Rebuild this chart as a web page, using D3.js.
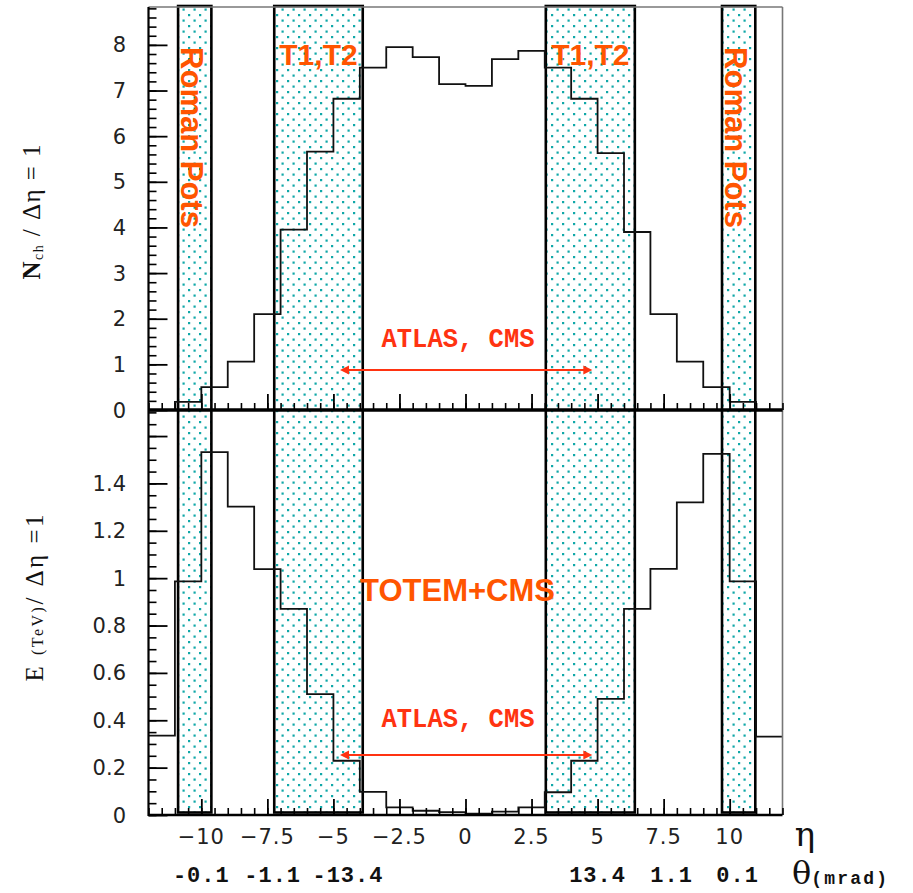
<!DOCTYPE html>
<html><head><meta charset="utf-8">
<script src="https://cdn.jsdelivr.net/npm/d3@7"></script>
<style>body{margin:0;background:#fff}svg{display:block}</style>
</head><body>
<script>
// ---- data ----
const binEdges = [-12,-11,-10,-9,-8,-7,-6,-5,-4,-3,-2,-1,0,1,2,3,4,5,6,7,8,9,10,11,12];
const nchValues = [0,0.18,0.50,1.06,2.10,3.95,5.66,6.82,7.50,7.95,7.73,7.14,7.10,7.69,7.87,7.50,6.82,5.63,3.90,2.10,1.06,0.50,0.18,0];
const energyValues = [0.335,0.986,1.532,1.302,1.038,0.870,0.510,0.229,0.098,0.032,0.018,0.012,0.006,0.014,0.032,0.096,0.229,0.490,0.870,1.039,1.32,1.525,0.986,0.331];
const bandNames = ["Roman Pots","T1,T2","T1,T2","Roman Pots"];
const bandRanges = [[-10.88,-9.62],[-7.24,-3.89],[3.04,6.41],[9.71,10.97]];
const etaTickLabels = [-10,-7.5,-5,-2.5,0,2.5,5,7.5,10];
const thetaLabels = ["-0.1","-1.1","-13.4","13.4","1.1","0.1"];
const thetaPositions = [-10,-7.3,-4.45,5,7.8,10.3];
const nchTickLabels = [0,1,2,3,4,5,6,7,8];
const energyTickLabels = [0,0.2,0.4,0.6,0.8,1,1.2,1.4];
const acceptanceRange = [-4.75,4.8];

// ---- layout ----
const W=913,H=893;
const x = d3.scaleLinear().domain([-12,12]).range([148.5,782.5]);
const yTop = d3.scaleLinear().domain([0,8.83]).range([410,7]);
const yBot = d3.scaleLinear().domain([0,1.71]).range([815,410]);

const svg = d3.select("body").append("svg").attr("width",W).attr("height",H);
const defs = svg.append("defs");
const pat = defs.append("pattern").attr("id","dots").attr("patternUnits","userSpaceOnUse")
  .attr("width",11).attr("height",11).attr("x",0).attr("y",2);
pat.append("rect").attr("width",11).attr("height",11).attr("fill","#fff");
pat.append("rect").attr("x",1).attr("y",1).attr("width",2.2).attr("height",2.2).attr("fill","#10a8a8");
pat.append("rect").attr("x",6.5).attr("y",6.5).attr("width",2.2).attr("height",2.2).attr("fill","#10a8a8");

// bands
svg.append("g").selectAll("rect").data(bandRanges).join("rect")
  .attr("x",d=>x(d[0])).attr("width",d=>x(d[1])-x(d[0]))
  .attr("y",6).attr("height",812.5-6)
  .attr("fill","url(#dots)").attr("stroke","#000").attr("stroke-width",2.6);

// histograms
function stepPts(vals){ const p = vals.map((v,i)=>[binEdges[i],v]); p.push([binEdges[binEdges.length-1], vals[vals.length-1]]); return p; }
const lineTop = d3.line().x(d=>x(d[0])).y(d=>yTop(d[1])).curve(d3.curveStepAfter);
const lineBot = d3.line().x(d=>x(d[0])).y(d=>yBot(d[1])).curve(d3.curveStepAfter);
svg.append("path").attr("d",lineTop(stepPts(nchValues))).attr("fill","none").attr("stroke","#111").attr("stroke-width",1.8);
svg.append("path").attr("d",lineBot(stepPts(energyValues))).attr("fill","none").attr("stroke","#111").attr("stroke-width",1.8);

// frame (top and right thin gray)
svg.append("line").attr("x1",x(-12)).attr("x2",x(12)).attr("y1",7).attr("y2",7).attr("stroke","#777").attr("stroke-width",1.6);
svg.append("line").attr("x1",x(12)).attr("x2",x(12)).attr("y1",7).attr("y2",815).attr("stroke","#777").attr("stroke-width",1.6);

// y axes ticks
function yTicks(scale, majors, minors, g){
  g.append("g").attr("transform","translate("+x(-12)+",0)")
   .call(d3.axisRight(scale).tickValues(minors).tickSize(8).tickFormat(""))
   .call(a=>a.select(".domain").remove()).selectAll("line").attr("stroke","#000").attr("stroke-width",1.6);
  g.append("g").attr("transform","translate("+x(-12)+",0)")
   .call(d3.axisRight(scale).tickValues(majors).tickSize(19).tickFormat(""))
   .call(a=>a.select(".domain").remove()).selectAll("line").attr("stroke","#000").attr("stroke-width",1.8);
}
const ag = svg.append("g");
yTicks(yTop, d3.range(0,8.5,1), d3.range(0,8.85,0.2), ag);
yTicks(yBot, d3.range(0,1.65,0.2), d3.range(0,1.71,0.05), ag);

// x axes ticks (pointing up) at both panels
function xTicks(yPos){
  ag.append("g").attr("transform","translate(0,"+yPos+")")
   .call(d3.axisTop(x).tickValues(d3.range(-12,12.01,0.5)).tickSize(7).tickFormat(""))
   .call(a=>a.select(".domain").remove()).selectAll("line").attr("stroke","#000").attr("stroke-width",1.6);
  ag.append("g").attr("transform","translate(0,"+yPos+")")
   .call(d3.axisTop(x).tickValues(etaTickLabels).tickSize(16).tickFormat(""))
   .call(a=>a.select(".domain").remove()).selectAll("line").attr("stroke","#000").attr("stroke-width",1.8);
}
xTicks(410); xTicks(815);

// axis lines
svg.append("line").attr("x1",x(-12)).attr("x2",x(-12)).attr("y1",7).attr("y2",816).attr("stroke","#000").attr("stroke-width",2.2);
svg.append("line").attr("x1",x(-12)).attr("x2",x(12)).attr("y1",410).attr("y2",410).attr("stroke","#000").attr("stroke-width",3.4);
svg.append("line").attr("x1",x(-12)).attr("x2",x(12)).attr("y1",815).attr("y2",815).attr("stroke","#000").attr("stroke-width",2.4);

// tick labels
const tickFont = "'DejaVu Sans', sans-serif";
svg.append("g").selectAll("text").data(nchTickLabels).join("text")
  .attr("x",126).attr("y",d=>yTop(d)).attr("dy","0.36em").attr("text-anchor","end")
  .attr("font-family",tickFont).attr("font-size",21).attr("fill","#222").text(d=>d);
svg.append("g").selectAll("text").data(energyTickLabels).join("text")
  .attr("x",126).attr("y",d=>yBot(d)).attr("dy","0.36em").attr("text-anchor","end")
  .attr("font-family",tickFont).attr("font-size",21).attr("fill","#222").text(d=>d);
svg.append("g").selectAll("text").data(etaTickLabels).join("text")
  .attr("x",d=>x(d)).attr("y",836).attr("dy","0.36em").attr("text-anchor","middle")
  .attr("font-family",tickFont).attr("font-size",21).attr("letter-spacing",1).attr("fill","#222")
  .text(d=>d<0?"\u2212"+Math.abs(d):d);
svg.append("text").attr("x",805).attr("y",846).attr("text-anchor","middle")
  .attr("font-family","'DejaVu Serif', serif").attr("font-size",34).attr("fill","#111").text("\u03b7");

// theta labels
svg.append("g").selectAll("text").data(thetaLabels).join("text")
  .attr("x",(d,i)=>x(thetaPositions[i])).attr("y",882).attr("text-anchor","middle")
  .attr("font-family","'Liberation Mono', monospace").attr("font-weight","bold").attr("font-size",22)
  .attr("letter-spacing",1).attr("fill","#111").text(d=>d);
const th = svg.append("text").attr("x",792).attr("y",884).attr("fill","#111");
th.append("tspan").attr("font-family","'DejaVu Serif', serif").attr("font-size",32).text("\u03b8");
th.append("tspan").attr("font-family","'Liberation Mono', monospace").attr("font-weight","bold").attr("font-size",18)
  .attr("letter-spacing",2.2).text("(mrad)");

// y-axis titles
const t1 = svg.append("text").attr("transform","translate(40,212) rotate(-90)").attr("text-anchor","middle")
  .attr("font-family","'Liberation Serif', serif").attr("font-size",25).attr("fill","#111")
  .attr("textLength",135).attr("lengthAdjust","spacing");
t1.append("tspan").attr("font-weight","bold").text("N");
t1.append("tspan").attr("font-size",14).attr("dy",3).text("ch");
t1.append("tspan").attr("dy",-3).text(" / \u0394\u03b7 = 1");
const t2 = svg.append("text").attr("transform","translate(43,598) rotate(-90)").attr("text-anchor","middle")
  .attr("font-family","'Liberation Serif', serif").attr("font-size",25).attr("fill","#111")
  .attr("textLength",167).attr("lengthAdjust","spacing");
t2.append("tspan").text("E ");
t2.append("tspan").attr("font-size",16).text("(TeV)");
t2.append("tspan").text("/ \u0394\u03b7 =1");

// annotations
const orange = "#ff5500", red = "#ff3311";
const annFont = "'Liberation Sans', Arial, sans-serif";
bandRanges.forEach((r,i)=>{
  if(bandNames[i]==="Roman Pots"){
    svg.append("text").attr("transform","translate("+(x(r[0])+2.5)+",137.5) rotate(90)").attr("text-anchor","middle")
      .attr("font-family",annFont).attr("font-weight","bold").attr("font-size",31).attr("fill",orange).text(bandNames[i]);
  } else {
    svg.append("text").attr("x",(x(r[0])+x(r[1]))/2).attr("y",65).attr("text-anchor","middle")
      .attr("font-family",annFont).attr("font-weight","bold").attr("font-size",30).attr("fill",orange).text(bandNames[i]);
  }
});
svg.append("text").attr("x",457.5).attr("y",601).attr("text-anchor","middle")
  .attr("font-family",annFont).attr("font-weight","bold").attr("font-size",31).attr("fill",orange).text("TOTEM+CMS");

[[yTop,347,370],[yBot,727,755]].forEach(([s,ty,ay])=>{
  svg.append("text").attr("x",458).attr("y",ty).attr("text-anchor","middle")
    .attr("font-family","'Liberation Mono', monospace").attr("font-weight","bold").attr("font-size",27)
    .attr("textLength",153).attr("lengthAdjust","spacingAndGlyphs").attr("fill",red).text("ATLAS, CMS");
  const x0=x(acceptanceRange[0]), x1=x(acceptanceRange[1]);
  svg.append("line").attr("x1",x0+6).attr("x2",x1-6).attr("y1",ay).attr("y2",ay).attr("stroke",red).attr("stroke-width",1.8);
  svg.append("path").attr("d",`M${x0},${ay}L${x0+9},${ay-4.5}L${x0+9},${ay+4.5}Z`).attr("fill",red);
  svg.append("path").attr("d",`M${x1},${ay}L${x1-9},${ay-4.5}L${x1-9},${ay+4.5}Z`).attr("fill",red);
});
</script>
</body></html>
